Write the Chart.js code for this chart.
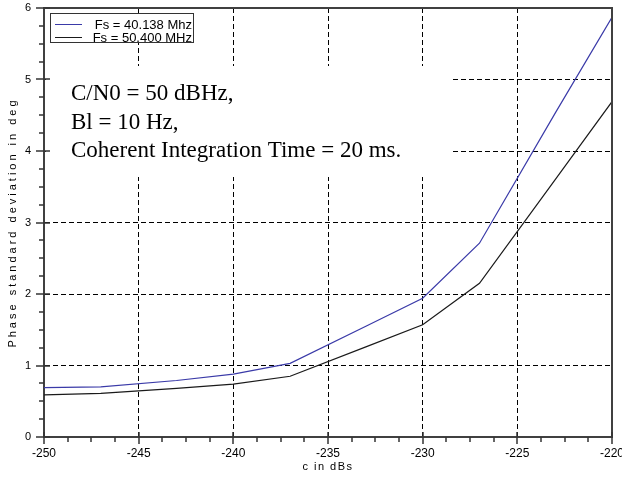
<!DOCTYPE html>
<html>
<head>
<meta charset="utf-8">
<script src="https://cdn.jsdelivr.net/npm/chart.js@4"></script>
<style>
html,body{margin:0;padding:0;background:#fff;}
#wrap{width:622px;height:477px;position:relative;}
</style>
</head>
<body>
<div id="wrap"><canvas id="c" width="622" height="477"></canvas></div>
<script>
// ---- data ----
const cValues   = [-250, -247, -243, -240, -237, -233, -230, -227, -223, -220];
const phaseFs40 = [0.69, 0.70, 0.79, 0.88, 1.03, 1.55, 1.94, 2.71, 4.53, 5.87];
const phaseFs50 = [0.59, 0.61, 0.68, 0.74, 0.85, 1.26, 1.57, 2.15, 3.60, 4.69];
const seriesLabels = ['Fs = 40.138 Mhz', 'Fs = 50.400 MHz'];
const annotationLines = ['C/N0 = 50 dBHz,', 'Bl = 10 Hz,', 'Coherent Integration Time = 20 ms.'];
const xTitle = 'c in dBs';
const yTitle = 'Phase standard deviation in deg';
const xRange = [-250, -220];
const yRange = [0, 6];
const xMajorStep = 5, xMinorStep = 1.25;
const yMajorStep = 1, yMinorStep = 0.25;

const toPoints = (xs, ys) => xs.map((x, i) => ({x: x, y: ys[i]}));
const AXIS_COLOR = '#404040';

const decorPlugin = {
  id: 'decor',
  afterLayout(chart) {
    const s = chart.scales.y;
    if (s && !s._lsPatched) {
      const orig = s.drawTitle;
      s.drawTitle = function () {
        const c = this.ctx; const prev = c.letterSpacing;
        c.letterSpacing = '3px';
        orig.apply(this, arguments);
        c.letterSpacing = prev || '0px';
      };
      s._lsPatched = true;
    }
    const sx = chart.scales.x;
    if (sx && !sx._lsPatched) {
      const origx = sx.drawTitle;
      sx.drawTitle = function () {
        const c = this.ctx; const prev = c.letterSpacing;
        c.letterSpacing = '1.5px';
        origx.apply(this, arguments);
        c.letterSpacing = prev || '0px';
      };
      sx._lsPatched = true;
    }
  },
  beforeDatasetsDraw(chart) {
    const ctx = chart.ctx;
    ctx.save();
    // white text panel (covers grid)
    ctx.fillStyle = '#fff';
    ctx.fillRect(46, 66, 406, 111);
    ctx.fillStyle = '#000';
    ctx.font = '23px "Liberation Serif", "Times New Roman", serif';
    ctx.textBaseline = 'alphabetic';
    ctx.textAlign = 'left';
    annotationLines.forEach((t, i) => ctx.fillText(t, 71, 100 + i * 28.5));
    // legend box
    ctx.fillStyle = '#fff';
    ctx.fillRect(50, 13, 144, 30);
    ctx.strokeStyle = '#333';
    ctx.lineWidth = 1;
    ctx.strokeRect(50.5, 13.5, 143, 29);
    ctx.font = '13px "Liberation Sans", Arial, sans-serif';
    ctx.textBaseline = 'middle';
    ctx.textAlign = 'right';
    chart.data.datasets.forEach((ds, i) => {
      const y = 24 + i * 13;
      ctx.strokeStyle = ds.borderColor;
      ctx.lineWidth = 1;
      ctx.beginPath();
      ctx.moveTo(55, y + 0.5);
      ctx.lineTo(82, y + 0.5);
      ctx.stroke();
      ctx.fillStyle = '#000';
      ctx.fillText(ds.label, 192, y + 1);
    });
    ctx.restore();
  },
  afterDraw(chart) {
    const ctx = chart.ctx;
    const a = chart.chartArea;
    const xs = chart.scales.x, ys = chart.scales.y;
    ctx.save();
    ctx.setLineDash([]);
    ctx.strokeStyle = AXIS_COLOR;
    ctx.lineWidth = 2;
    ctx.beginPath();
    ctx.moveTo(a.left, a.top);
    ctx.lineTo(a.right, a.top);
    ctx.lineTo(a.right, a.bottom);
    ctx.stroke();
    ctx.lineWidth = 1.5;
    ctx.strokeStyle = '#333';
    // x ticks
    const b = a.bottom;
    const nx = Math.round((xs.max - xs.min) / xMinorStep);
    for (let i = 0; i <= nx; i++) {
      const v = xs.min + i * xMinorStep;
      const q = (v - xs.min) / xMajorStep;
      const major = Math.abs(q - Math.round(q)) < 1e-6;
      const px = Math.round(xs.getPixelForValue(v));
      ctx.beginPath();
      ctx.moveTo(px, major ? b - 5 : b);
      ctx.lineTo(px, b + (major ? 7 : 5));
      ctx.stroke();
    }
    // y ticks
    const l = a.left;
    const ny = Math.round((ys.max - ys.min) / yMinorStep);
    for (let i = 0; i <= ny; i++) {
      const v = ys.min + i * yMinorStep;
      const q = (v - ys.min) / yMajorStep;
      const major = Math.abs(q - Math.round(q)) < 1e-6;
      const py = Math.round(ys.getPixelForValue(v));
      ctx.beginPath();
      ctx.moveTo(major ? l - 8 : l - 5, py);
      ctx.lineTo(major ? l + 6 : l, py);
      ctx.stroke();
    }
    ctx.restore();
  }
};

const gridColor = (ctx, lo, hi) => {
  const v = ctx.tick ? ctx.tick.value : null;
  return (v === lo || v === hi) ? 'rgba(0,0,0,0)' : '#000';
};

new Chart(document.getElementById('c'), {
  type: 'line',
  data: {
    datasets: [
      {label: seriesLabels[0], data: toPoints(cValues, phaseFs40), borderColor: '#3a3aa8', borderWidth: 1.2, pointRadius: 0, tension: 0, fill: false},
      {label: seriesLabels[1], data: toPoints(cValues, phaseFs50), borderColor: '#1a1a1a', borderWidth: 1.2, pointRadius: 0, tension: 0, fill: false}
    ]
  },
  options: {
    responsive: false,
    animation: false,
    events: [],
    layout: {padding: {top: 8, right: 10, left: 0, bottom: 0}},
    plugins: {legend: {display: false}, tooltip: {enabled: false}},
    scales: {
      x: {
        type: 'linear', min: xRange[0], max: xRange[1],
        ticks: {stepSize: xMajorStep, padding: 9, maxRotation: 0, autoSkip: false, color: '#000',
                font: {family: '"Liberation Sans", Arial, sans-serif', size: 12}},
        grid: {color: c => gridColor(c, xRange[0], xRange[1]), lineWidth: 1, drawTicks: false},
        border: {display: true, color: AXIS_COLOR, width: 2, dash: [5, 3]},
        title: {display: true, text: xTitle, color: '#000',
                font: {family: '"Liberation Sans", Arial, sans-serif', size: 11}, padding: {top: 0, bottom: 3}},
        afterFit: s => { s.height = 40; s.paddingRight = 10; s.paddingLeft = 0; }
      },
      y: {
        min: yRange[0], max: yRange[1],
        ticks: {stepSize: yMajorStep, padding: 13, color: '#000',
                font: {family: '"Liberation Sans", Arial, sans-serif', size: 11}},
        grid: {color: c => gridColor(c, yRange[0], yRange[1]), lineWidth: 1, drawTicks: false},
        border: {display: true, color: AXIS_COLOR, width: 2, dash: [5, 3]},
        title: {display: true, text: yTitle, color: '#000',
                font: {family: '"Liberation Sans", Arial, sans-serif', size: 11}, padding: {top: 6, bottom: 0}},
        afterFit: s => { s.width = 44; s.paddingTop = 0; s.paddingBottom = 0; }
      }
    }
  },
  plugins: [decorPlugin]
});
</script>
</body>
</html>
